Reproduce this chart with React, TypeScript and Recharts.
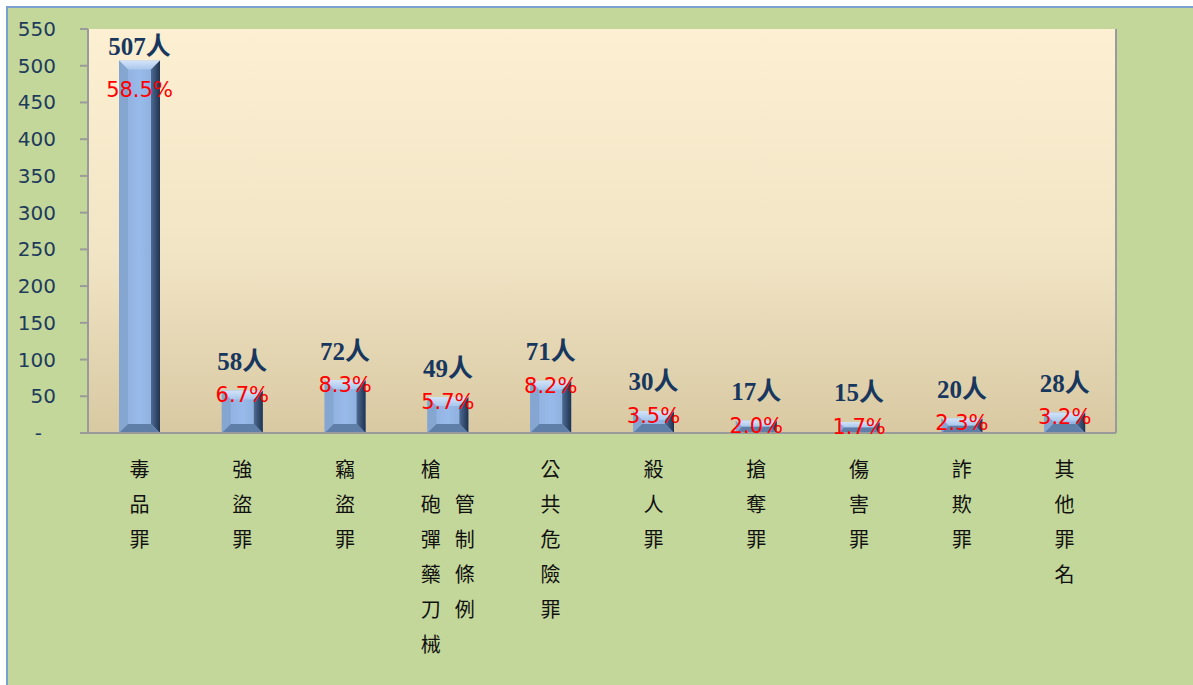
import * as React from "react";
import {
  BarChart,
  Bar,
  XAxis,
  YAxis,
  CartesianGrid,
  LabelList,
} from "recharts";

/* ---------- data ---------- */
const categories = [
  "毒品罪",
  "強盜罪",
  "竊盜罪",
  "槍砲彈藥刀械管制條例",
  "公共危險罪",
  "殺人罪",
  "搶奪罪",
  "傷害罪",
  "詐欺罪",
  "其他罪名",
];
const counts = [507, 58, 72, 49, 71, 30, 17, 15, 20, 28];
const shares = ["58.5%", "6.7%", "8.3%", "5.7%", "8.2%", "3.5%", "2.0%", "1.7%", "2.3%", "3.2%"];
const yTicks = [0, 50, 100, 150, 200, 250, 300, 350, 400, 450, 500, 550];

const data = categories.map((name, i) => ({ name, count: counts[i], share: shares[i] }));

/* ---------- visuals ---------- */
const axisGrey = "#9a9a9a";
const tickColor = "#1f3b5b";
const countColor = "#17375e";
const sansFont = "'DejaVu Sans', sans-serif";
const cjkFont = "'Noto Sans CJK TC', sans-serif";

/* beveled column like Excel's 3D bevel */
function BevelBar(props: any) {
  const { x, y, width, height } = props;
  if (!height || height <= 0) return null;
  const b = Math.min(9, width / 4, height / 2);
  const x2 = x + width;
  const y2 = y + height;
  return (
    <g>
      <rect x={x} y={y} width={width} height={height} fill="url(#barFace)" />
      {/* top bevel */}
      <polygon points={`${x},${y} ${x2},${y} ${x2 - b},${y + b} ${x + b},${y + b}`} fill="url(#bevelTop)" />
      {/* left bevel */}
      <polygon points={`${x},${y} ${x + b},${y + b} ${x + b},${y2 - b} ${x},${y2}`} fill="#86a6d2" />
      {/* right bevel */}
      <polygon points={`${x2},${y} ${x2 - b},${y + b} ${x2 - b},${y2 - b} ${x2},${y2}`} fill="url(#bevelRight)" />
      {/* bottom bevel */}
      <polygon points={`${x},${y2} ${x + b},${y2 - b} ${x2 - b},${y2 - b} ${x2},${y2}`} fill="#5f7ea8" />
    </g>
  );
}

const countY = (y: number) => Math.max(y - 29, 38);

function CountLabel(props: any) {
  const { x, y, width, value } = props;
  return (
    <text
      x={x + width / 2}
      y={countY(y)}
      textAnchor="middle"
      dominantBaseline="central"
      fill={countColor}
      fontFamily="'Liberation Serif', 'Noto Sans CJK TC', serif"
      fontWeight="bold"
      fontSize={25}
    >
      {value}人
    </text>
  );
}

function ShareLabel(props: any) {
  const { x, y, width, value } = props;
  const cy = countY(y) === 38 ? y + 29 : y + 5;
  return (
    <text
      x={x + width / 2}
      y={cy}
      textAnchor="middle"
      dominantBaseline="central"
      fill="#ff0000"
      fontFamily={sansFont}
      fontSize={21}
    >
      {value}
    </text>
  );
}

function YTick(props: any) {
  const { x, y, payload } = props;
  const v = payload.value;
  return (
    <text
      x={v === 0 ? x - 14 : x}
      y={y}
      textAnchor="end"
      dominantBaseline="central"
      fill={tickColor}
      fontFamily={sansFont}
      fontSize={20}
    >
      {v === 0 ? "-" : v}
    </text>
  );
}

/* vertical stacked category text; long names wrap into columns of 6 */
function XTick(props: any) {
  const { x, y, payload } = props;
  const chars = Array.from(String(payload.value));
  const cols: string[][] = [];
  for (let i = 0; i < chars.length; i += 6) cols.push(chars.slice(i, i + 6));
  const maxLen = Math.max(...cols.map((c) => c.length));
  return (
    <g>
      {cols.map((col, ci) => {
        const cx = x + (ci - (cols.length - 1) / 2) * 34;
        const off = (maxLen - col.length) / 2;
        return col.map((ch, ri) => (
          <text
            key={`${ci}-${ri}`}
            x={cx}
            y={y + 35 + (ri + off) * 35}
            textAnchor="middle"
            dominantBaseline="central"
            fill="#111"
            fontFamily={cjkFont}
            fontSize={20}
          >
            {ch}
          </text>
        ));
      })}
    </g>
  );
}

export default function App() {
  return (
    <>
      <style>{`body{margin:0;overflow:hidden;background:#fff}`}</style>
      <div
        style={{
          position: "absolute",
          left: 6,
          top: 6,
          width: 1185,
          height: 677,
          borderTop: "2px solid #7ba0cd",
          borderLeft: "2px solid #7ba0cd",
          background: "#c4d79b",
        }}
      >
        <BarChart
          width={1185}
          height={677}
          data={data}
          margin={{ top: 21, right: 0, bottom: 0, left: 0 }}
          barCategoryGap={0}
        >
          <defs>
            <linearGradient id="plotBg" x1="0" y1="0" x2="0" y2="1">
              <stop offset="0%" stopColor="#fdefd1" />
              <stop offset="55%" stopColor="#f2e5c6" />
              <stop offset="100%" stopColor="#d8c9a2" />
            </linearGradient>
            <linearGradient id="barFace" x1="0" y1="0" x2="1" y2="0">
              <stop offset="0%" stopColor="#8eaedb" />
              <stop offset="50%" stopColor="#98baea" />
              <stop offset="100%" stopColor="#8aabd8" />
            </linearGradient>
            <linearGradient id="bevelTop" x1="0" y1="0" x2="0" y2="1">
              <stop offset="0%" stopColor="#d3e4f8" />
              <stop offset="100%" stopColor="#a9c6ec" />
            </linearGradient>
            <linearGradient id="bevelRight" x1="0" y1="0" x2="1" y2="0">
              <stop offset="0%" stopColor="#4d6b93" />
              <stop offset="100%" stopColor="#1f3350" />
            </linearGradient>
          </defs>
          <CartesianGrid fill="url(#plotBg)" horizontal={false} vertical={false} />
          <XAxis
            dataKey="name"
            interval={0}
            height={252}
            tickSize={0}
            tickMargin={0}
            tickLine={false}
            axisLine={{ stroke: axisGrey, strokeWidth: 2 }}
            tick={<XTick />}
          />
          <YAxis
            width={80}
            domain={[0, 550]}
            ticks={yTicks}
            interval={0}
            tickSize={8}
            tickMargin={24}
            tickLine={{ stroke: axisGrey, strokeWidth: 2 }}
            axisLine={{ stroke: axisGrey, strokeWidth: 2 }}
            tick={<YTick />}
          />
          <YAxis
            yAxisId="right"
            orientation="right"
            width={77}
            domain={[0, 550]}
            tick={false}
            tickLine={false}
            axisLine={{ stroke: axisGrey, strokeWidth: 2 }}
          />
          <Bar dataKey="count" barSize={41} shape={<BevelBar />} isAnimationActive={false}>
            <LabelList dataKey="count" content={<CountLabel />} />
            <LabelList dataKey="share" content={<ShareLabel />} />
          </Bar>
        </BarChart>
      </div>
    </>
  );
}
